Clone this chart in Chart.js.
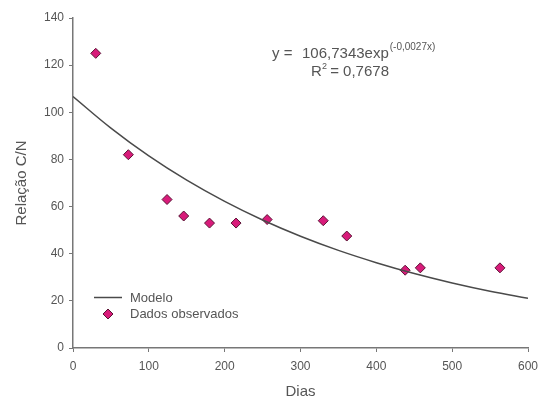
<!DOCTYPE html>
<html>
<head>
<meta charset="utf-8">
<script src="https://cdn.jsdelivr.net/npm/chart.js@4"></script>
<style>
  html, body { margin: 0; padding: 0; background: #fff; }
  #wrap { width: 541px; height: 401px; }
</style>
</head>
<body>
<div id="wrap"><canvas id="cnChart" width="541" height="401"></canvas></div>
<script>
const obsDays = [30, 73, 124, 146, 180, 215, 256, 330, 361, 438, 458, 563];
const obsRatio = [125, 82, 63, 56, 53, 53, 54.5, 54, 47.5, 33, 34, 34];

const modelDays = [0, 50, 100, 150, 200, 250, 300, 350, 400, 450, 500, 550, 600];
const modelRatio = [106.7, 93.3, 81.5, 71.2, 62.2, 54.3, 47.4, 41.4, 36.2, 31.6, 27.6, 24.1, 21.1];

const xTicks = [0, 100, 200, 300, 400, 500, 600];
const yTicks = [0, 20, 40, 60, 80, 100, 120, 140];

const FONT = "'Liberation Sans', Arial, sans-serif";
const TEXT = "#555";
const AXIS = "#777";

// equation text + legend drawn inside the plot
const overlay = {
  id: "overlay",
  afterDraw(chart) {
    const c = chart.ctx;
    c.save();
    c.fillStyle = TEXT;
    c.textBaseline = "alphabetic";
    c.font = "15px " + FONT;
    c.fillText("y =", 272, 58);
    c.fillText("106,7343exp", 302, 58);
    const w = c.measureText("106,7343exp").width;
    c.font = "10px " + FONT;
    c.fillText("(-0,0027x)", 302 + w + 1, 50);
    c.font = "15px " + FONT;
    c.fillText("R", 311, 76);
    c.font = "9px " + FONT;
    c.fillText("2", 322, 69);
    c.font = "15px " + FONT;
    c.fillText(" = 0,7678", 326, 76);

    // legend
    const ds = chart.data.datasets;
    c.font = "13px " + FONT;
    c.textBaseline = "middle";
    c.strokeStyle = ds[0].borderColor;
    c.lineWidth = 1.5;
    c.beginPath();
    c.moveTo(94, 297.5);
    c.lineTo(122, 297.5);
    c.stroke();
    c.fillText(ds[0].label, 130, 298);

    c.fillStyle = ds[1].backgroundColor;
    c.strokeStyle = ds[1].borderColor;
    c.lineWidth = 1;
    c.beginPath();
    c.moveTo(108, 309);
    c.lineTo(113, 314);
    c.lineTo(108, 319);
    c.lineTo(103, 314);
    c.closePath();
    c.fill();
    c.stroke();
    c.fillStyle = TEXT;
    c.fillText(ds[1].label, 130, 314.5);
    c.restore();
  }
};

new Chart(document.getElementById("cnChart"), {
  type: "scatter",
  data: {
    datasets: [
      {
        label: "Modelo",
        type: "line",
        data: modelDays.map((d, i) => ({ x: d, y: modelRatio[i] })),
        borderColor: "#4a4a4a",
        borderWidth: 1.5,
        pointRadius: 0,
        tension: 0.4,
        fill: false
      },
      {
        label: "Dados observados",
        data: obsDays.map((d, i) => ({ x: d, y: obsRatio[i] })),
        pointStyle: "rectRot",
        pointRadius: 5,
        backgroundColor: "#d81b7a",
        borderColor: "#5a1234",
        borderWidth: 1
      }
    ]
  },
  options: {
    responsive: false,
    animation: false,
    layout: { padding: { left: 0, right: 13, top: 18, bottom: 0 } },
    plugins: {
      legend: { display: false },
      tooltip: { enabled: false }
    },
    scales: {
      x: {
        type: "linear",
        min: 0,
        max: 600,
        afterBuildTicks: s => { s.ticks = xTicks.map(v => ({ value: v })); },
        afterFit: s => { s.height = 53; s.paddingRight = 0; s.paddingLeft = 0; },
        grid: { drawOnChartArea: false, drawTicks: true, tickLength: 4, color: AXIS },
        border: { color: AXIS, width: 1.5 },
        ticks: { color: TEXT, font: { family: FONT, size: 12 }, padding: 7 },
        title: { display: true, text: "Dias", color: TEXT, font: { family: FONT, size: 15 }, padding: { top: 4, bottom: 0 } }
      },
      y: {
        min: 0,
        max: 140,
        afterBuildTicks: s => { s.ticks = yTicks.map(v => ({ value: v })); },
        afterFit: s => { s.width = 73; },
        grid: { drawOnChartArea: false, drawTicks: true, tickLength: 4, color: AXIS },
        border: { color: AXIS, width: 1.5 },
        ticks: { color: TEXT, font: { family: FONT, size: 12 }, padding: 5 },
        title: { display: true, text: "Relação C/N", color: TEXT, font: { family: FONT, size: 15 }, padding: { top: 13, bottom: 0 } }
      }
    }
  },
  plugins: [overlay]
});
</script>
</body>
</html>
